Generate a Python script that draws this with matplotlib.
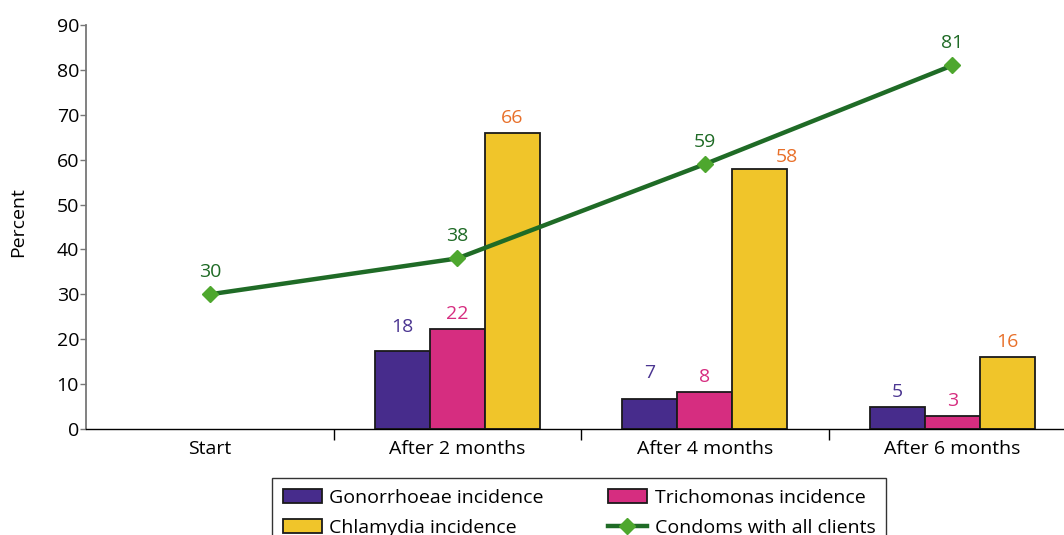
import matplotlib
matplotlib.use("Agg")
import matplotlib.pyplot as plt
import numpy as np
from matplotlib.lines import Line2D
from matplotlib.patches import Patch

categories = ["Start", "After 2 months", "After 4 months", "After 6 months"]
gonorrhoeae = [None, 17.4, 6.7, 4.9]
trichomonas = [None, 22.3, 8.3, 2.9]
chlamydia = [None, 65.9, 57.9, 16.0]
gonorrhoeae_labels = [None, 18, 7, 5]
trichomonas_labels = [None, 22, 8, 3]
chlamydia_labels = [None, 66, 58, 16]
condoms = [30, 38, 59, 81]

c_gon = "#472C8C"
c_tri = "#D62D80"
c_chl = "#F0C52A"
c_line = "#1F6B26"
c_marker = "#4EA72E"
c_gon_t = "#4B3591"
c_tri_t = "#D62D80"
c_chl_t = "#E8702A"
c_line_t = "#1F6B26"

plt.rcParams['font.family'] = ['Open Sans', 'DejaVu Sans']

fig = plt.figure(figsize=(10.64, 5.35), dpi=100)
ax = fig.add_axes([86/1064, 106/535, (1064-86)/1064, 404/535])

x = np.arange(len(categories))
w = 0.222
fs = 14
px = 90 / 404  # data units per pixel

# label nudges (x in category units, y in pixels)
nudge = {("gon", 1): (0, 9), ("gon", 2): (0, 11), ("chl", 2): (0.11, -3)}

for key, vals, labs, off, col, tcol in [
        ("gon", gonorrhoeae, gonorrhoeae_labels, -w, c_gon, c_gon_t),
        ("tri", trichomonas, trichomonas_labels, 0, c_tri, c_tri_t),
        ("chl", chlamydia, chlamydia_labels, w, c_chl, c_chl_t)]:
    for xi, v, lab in zip(x, vals, labs):
        if v is None:
            continue
        ax.bar(xi + off, v, width=w, color=col, edgecolor="#1a1a1a", linewidth=1.3, zorder=2)
        dx, dy = nudge.get((key, xi), (0, 0))
        ax.text(xi + off + dx, v + (10 + dy) * px, f"{lab}", ha="center",
                va="baseline", color=tcol, fontsize=fs)

ax.plot(x, condoms, color=c_line, linewidth=3.2, marker="D", markersize=8,
        markerfacecolor=c_marker, markeredgecolor=c_marker, zorder=3)
for xi, v in zip(x, condoms):
    ax.text(xi, v + 17 * px, f"{v}", ha="center", va="baseline", color=c_line_t, fontsize=fs)

ax.set_xlim(-0.5, 3.451)
ax.set_ylim(0, 90)
ax.set_yticks(np.arange(0, 91, 10))
ax.set_xticks(x)
ax.set_xticklabels(categories, fontsize=fs)
ax.set_xticks([0.5, 1.5, 2.5], minor=True)
ax.tick_params(axis="x", which="major", length=0, pad=8)
ax.tick_params(axis="x", which="minor", length=8, direction="out", width=1, color="black")
ax.tick_params(axis="y", length=4, width=1, direction="out", color="#777777", labelsize=fs, pad=1)

for s in ["top", "right"]:
    ax.spines[s].set_visible(False)
ax.spines["left"].set_color("#777777")
ax.spines["left"].set_linewidth(1.3)
ax.spines["bottom"].set_color("black")
ax.spines["bottom"].set_linewidth(1)

fig.text(18/1064, 1 - 222/535, "Percent", rotation=90, ha="center", va="center", fontsize=fs)

handles = [
    Patch(facecolor=c_gon, edgecolor="#1a1a1a", linewidth=1.3),
    Patch(facecolor=c_chl, edgecolor="#1a1a1a", linewidth=1.3),
    Patch(facecolor=c_tri, edgecolor="#1a1a1a", linewidth=1.3),
    Line2D([0], [0], color=c_line, linewidth=3.2, marker="D", markersize=8,
           markerfacecolor=c_marker, markeredgecolor=c_marker),
]
labels = ["Gonorrhoeae incidence", "Chlamydia incidence", "Trichomonas incidence",
          "Condoms with all clients"]
leg = fig.legend(handles, labels, ncol=2, loc="upper left",
                 bbox_to_anchor=(272/1064, 1 - 478/535), borderaxespad=0, fontsize=fs,
                 frameon=True, fancybox=False, edgecolor="black",
                 handlelength=2.0, handleheight=0.75, columnspacing=3.3,
                 labelspacing=0.62, borderpad=0.55, handletextpad=0.4)
leg.get_frame().set_linewidth(1)

fig.savefig("out.png", dpi=100)
